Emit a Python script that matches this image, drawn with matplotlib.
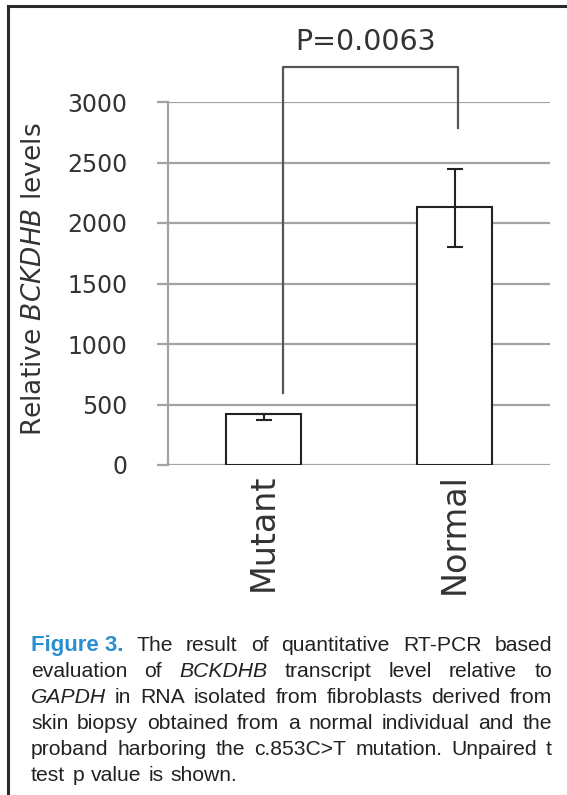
import matplotlib
matplotlib.use("Agg")
import matplotlib.pyplot as plt
from matplotlib.lines import Line2D

categories = ["Mutant", "Normal"]
values = [420, 2135]
err_low = [45, 330]
err_high = [0, 315]
yticks = [0, 500, 1000, 1500, 2000, 2500, 3000]
p_label = "P=0.0063"
bracket_y = [595, 3290, 3290, 2785]
bracket_x = [0.10, 0.10, 1.02, 1.02]

caption_lines = [
    [("Figure 3.", "bold"), ("The", "n"), ("result", "n"), ("of", "n"), ("quantitative", "n"), ("RT-PCR", "n"), ("based", "n")],
    [("evaluation", "n"), ("of", "n"), ("BCKDHB", "i"), ("transcript", "n"), ("level", "n"), ("relative", "n"), ("to", "n")],
    [("GAPDH", "i"), ("in", "n"), ("RNA", "n"), ("isolated", "n"), ("from", "n"), ("fibroblasts", "n"), ("derived", "n"), ("from", "n")],
    [("skin", "n"), ("biopsy", "n"), ("obtained", "n"), ("from", "n"), ("a", "n"), ("normal", "n"), ("individual", "n"), ("and", "n"), ("the", "n")],
    [("proband", "n"), ("harboring", "n"), ("the", "n"), ("c.853C>T", "n"), ("mutation.", "n"), ("Unpaired", "n"), ("t", "n")],
    [("test", "n"), ("p", "n"), ("value", "n"), ("is", "n"), ("shown.", "n")],
]

W, H = 567, 795
fig = plt.figure(figsize=(W / 100, H / 100), dpi=100)
fig.patch.set_facecolor("white")

def fx(px):
    return px / W

def fy(py):
    return 1 - py / H

ax = fig.add_axes([fx(168), fy(465), fx(550) - fx(168), fy(102) - fy(465)])
ax.set_xlim(-0.5, 1.5)
ax.set_ylim(0, 3000)
grid_c = "#a3a3a3"
for s in ["top", "right", "bottom"]:
    ax.spines[s].set_visible(False)
ax.spines["left"].set_color(grid_c)
ax.spines["left"].set_linewidth(1.6)
ax.set_yticks(yticks)
ax.yaxis.grid(True, color=grid_c, linewidth=1.6)
ax.set_axisbelow(True)
ax.tick_params(axis="y", length=8, width=1.6, color=grid_c, labelsize=17, labelcolor="#333333", pad=21)
ax.set_xticks(range(len(categories)))
ax.set_xticklabels(categories, rotation=90, fontsize=24, color="#333333")
ax.tick_params(axis="x", length=0, pad=6)

ax.bar(range(len(categories)), values, width=0.39, color="white", edgecolor="#222222", linewidth=1.5, zorder=3)
ax.errorbar(range(len(categories)), values, yerr=[err_low, err_high], fmt="none",
            ecolor="#222222", elinewidth=1.5, capsize=6, capthick=1.5, zorder=4)

ax.add_line(Line2D(bracket_x, bracket_y, color="#555555", linewidth=1.6, clip_on=False, zorder=5))
ax.text(0.535, 3500, p_label, ha="center", va="center", fontsize=20.5, color="#333333", clip_on=False)

fig.text(fx(34), fy(279), r"Relative $\mathit{BCKDHB}$ levels", rotation=90, ha="center", va="center",
         fontsize=19, color="#333333")

# frame
fig.add_artist(Line2D([fx(7.5), fx(7.5)], [fy(5.5), 0], color="#2a2a2a", linewidth=2.2))
fig.add_artist(Line2D([fx(7.5), 1], [fy(5.5), fy(5.5)], color="#2a2a2a", linewidth=2.2))

# caption (justified)
renderer = fig.canvas.get_renderer()
left, right = 31, 552
base0, step = 651, 26
fs = 15.2
for i, line in enumerate(caption_lines):
    arts = []
    for word, st in line:
        kw = dict(fontsize=fs, family="Liberation Sans", color="#222222", va="baseline", ha="left")
        if st == "bold":
            kw.update(fontweight="bold", color="#2a8fd0", fontsize=16)
        elif st == "i":
            kw.update(style="italic")
        t = fig.text(0, fy(base0 + i * step), word, **kw)
        arts.append(t)
    widths = [a.get_window_extent(renderer).width for a in arts]
    if i < len(caption_lines) - 1:
        gap = (right - left - sum(widths)) / (len(arts) - 1)
    else:
        gap = fs * 1.389 * 0.278 * 1.2
    x = left
    for a, w in zip(arts, widths):
        a.set_x(fx(x))
        x += w + gap

fig.savefig("out.png", dpi=100, facecolor="white")
